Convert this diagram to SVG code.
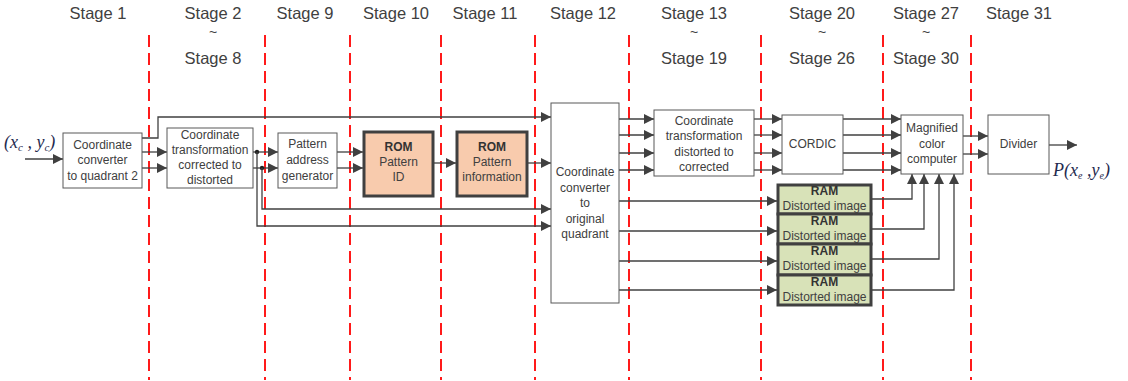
<svg xmlns="http://www.w3.org/2000/svg" width="1128" height="381" viewBox="0 0 1128 381">
<defs>
<marker id="ah" markerUnits="userSpaceOnUse" markerWidth="10" markerHeight="10" refX="10" refY="5" orient="auto" viewBox="0 0 10 10">
<path d="M0,0 L10,5 L0,10 z" fill="#404040"/>
</marker>
<style>
.stage{font-family:"Liberation Sans",Arial,sans-serif;font-size:16.5px;fill:#404040;text-anchor:middle}
.tl{font-family:"Liberation Sans",Arial,sans-serif;font-size:14px;fill:#404040;text-anchor:middle}
.t{font-family:"Liberation Sans",Arial,sans-serif;font-size:12px;fill:#404040;text-anchor:middle}
.b{font-weight:bold;fill:#333}
.box{fill:#fff;stroke:#595959;stroke-width:1}
.rom{fill:#f8cbad;stroke:#404040;stroke-width:3}
.ram{fill:#d8e2b8;stroke:#404040;stroke-width:3}
.dash{stroke:#ff1a1a;stroke-width:2;stroke-dasharray:12 6;fill:none}
.a{stroke:#404040;stroke-width:1.3;fill:none;marker-end:url(#ah)}
.m{font-family:"Liberation Serif","Times New Roman",serif;font-style:italic;font-size:18px;fill:#1f2a4f}
</style>
</defs>
<rect width="1128" height="381" fill="#fff"/>

<g id="stages">
<text class="stage" x="98" y="19">Stage 1</text>
<text class="stage" x="213" y="19">Stage 2</text>
<text class="tl" x="213" y="37">~</text>
<text class="stage" x="213" y="64">Stage 8</text>
<text class="stage" x="305" y="19">Stage 9</text>
<text class="stage" x="396" y="19">Stage 10</text>
<text class="stage" x="485" y="19">Stage 11</text>
<text class="stage" x="583" y="19">Stage 12</text>
<text class="stage" x="694" y="19">Stage 13</text>
<text class="tl" x="694" y="37">~</text>
<text class="stage" x="694" y="64">Stage 19</text>
<text class="stage" x="822" y="19">Stage 20</text>
<text class="tl" x="822" y="37">~</text>
<text class="stage" x="822" y="64">Stage 26</text>
<text class="stage" x="926" y="19">Stage 27</text>
<text class="tl" x="926" y="37">~</text>
<text class="stage" x="926" y="64">Stage 30</text>
<text class="stage" x="1019" y="19">Stage 31</text>
</g>

<g id="dividers">
<line class="dash" x1="149" y1="35" x2="149" y2="380"/>
<line class="dash" x1="265" y1="35" x2="265" y2="380"/>
<line class="dash" x1="350" y1="35" x2="350" y2="380"/>
<line class="dash" x1="441" y1="35" x2="441" y2="380"/>
<line class="dash" x1="535" y1="35" x2="535" y2="380"/>
<line class="dash" x1="629" y1="35" x2="629" y2="380"/>
<line class="dash" x1="761" y1="35" x2="761" y2="380"/>
<line class="dash" x1="883" y1="35" x2="883" y2="380"/>
<line class="dash" x1="971" y1="35" x2="971" y2="380"/>
</g>

<g id="connectors">
<line class="a" x1="25" y1="159" x2="63" y2="159"/>
<polyline class="a" points="142,138 158,138 158,117 551,117"/>
<line class="a" x1="142" y1="152" x2="167" y2="152"/>
<line class="a" x1="142" y1="168" x2="167" y2="168"/>
<line class="a" x1="253" y1="152" x2="278" y2="152"/>
<line class="a" x1="253" y1="168" x2="278" y2="168"/>
<circle cx="257" cy="152" r="2.2" fill="#222"/>
<circle cx="262" cy="168" r="2.2" fill="#222"/>
<polyline class="a" points="257,152 257,226 551,226"/>
<polyline class="a" points="262,168 262,209 551,209"/>
<line class="a" x1="337" y1="152" x2="363" y2="152"/>
<line class="a" x1="337" y1="168" x2="363" y2="168"/>
<line class="a" x1="434" y1="163" x2="456" y2="163"/>
<line class="a" x1="528" y1="163" x2="551" y2="163"/>
<line class="a" x1="619" y1="119" x2="654" y2="119"/>
<line class="a" x1="619" y1="135" x2="654" y2="135"/>
<line class="a" x1="619" y1="153" x2="654" y2="153"/>
<line class="a" x1="619" y1="170" x2="654" y2="170"/>
<line class="a" x1="754" y1="119" x2="782" y2="119"/>
<line class="a" x1="754" y1="135" x2="782" y2="135"/>
<line class="a" x1="754" y1="153" x2="782" y2="153"/>
<line class="a" x1="754" y1="170" x2="782" y2="170"/>
<line class="a" x1="843" y1="119" x2="901" y2="119"/>
<line class="a" x1="843" y1="135" x2="901" y2="135"/>
<line class="a" x1="843" y1="153" x2="901" y2="153"/>
<line class="a" x1="843" y1="170" x2="901" y2="170"/>
<line class="a" x1="963" y1="136" x2="988" y2="136"/>
<line class="a" x1="963" y1="154" x2="988" y2="154"/>
<line class="a" x1="1049" y1="145" x2="1077" y2="145"/>
<line class="a" x1="619" y1="201" x2="777" y2="201"/>
<line class="a" x1="619" y1="231" x2="777" y2="231"/>
<line class="a" x1="619" y1="261" x2="777" y2="261"/>
<line class="a" x1="619" y1="290" x2="777" y2="290"/>
<polyline class="a" points="872,199 912,199 912,174"/>
<polyline class="a" points="872,229 924,229 924,174"/>
<polyline class="a" points="872,259 939,259 939,174"/>
<polyline class="a" points="872,290 954,290 954,174"/>
</g>

<g id="input-label">
<text class="m" x="4" y="148">(<tspan>x</tspan><tspan font-size="11" dy="3">c</tspan><tspan dy="-3"> , y</tspan><tspan font-size="11" dy="3">c</tspan><tspan dy="-3">)</tspan></text>
</g>
<g id="output-label">
<text class="m" x="1053" y="176">P(<tspan>x</tspan><tspan font-size="10" dy="3">e</tspan><tspan dy="-3"> ,y</tspan><tspan font-size="10" dy="3">e</tspan><tspan dy="-3">)</tspan></text>
</g>

<g id="n-quadrant2">
<rect class="box" x="63" y="133" width="79" height="55"/>
<text class="t" x="102.5" y="149">Coordinate</text>
<text class="t" x="102.5" y="164">converter</text>
<text class="t" x="102.5" y="180">to quadrant 2</text>
</g>
<g id="n-corr2dist">
<rect class="box" x="167" y="128" width="86" height="60"/>
<text class="t" x="210" y="139">Coordinate</text>
<text class="t" x="210" y="154">transformation</text>
<text class="t" x="210" y="169">corrected to</text>
<text class="t" x="210" y="184">distorted</text>
</g>
<g id="n-pattern-addr">
<rect class="box" x="278" y="133" width="59" height="55"/>
<text class="t" x="307.5" y="148">Pattern</text>
<text class="t" x="307.5" y="164">address</text>
<text class="t" x="307.5" y="180">generator</text>
</g>
<g id="n-rom-id">
<rect class="rom" x="364" y="132" width="69" height="64"/>
<text class="t b" x="398.5" y="151">ROM</text>
<text class="t" x="398.5" y="166">Pattern</text>
<text class="t" x="398.5" y="181">ID</text>
</g>
<g id="n-rom-info">
<rect class="rom" x="457" y="132" width="70" height="64"/>
<text class="t b" x="492" y="151">ROM</text>
<text class="t" x="492" y="166">Pattern</text>
<text class="t" x="492" y="181">information</text>
</g>
<g id="n-orig-quadrant">
<rect class="box" x="551" y="103" width="68" height="200"/>
<text class="t" x="585" y="176">Coordinate</text>
<text class="t" x="585" y="192">converter</text>
<text class="t" x="585" y="207">to</text>
<text class="t" x="585" y="223">original</text>
<text class="t" x="585" y="238">quadrant</text>
</g>
<g id="n-dist2corr">
<rect class="box" x="654" y="110" width="100" height="66"/>
<text class="t" x="704" y="125">Coordinate</text>
<text class="t" x="704" y="140">transformation</text>
<text class="t" x="704" y="156">distorted to</text>
<text class="t" x="704" y="171">corrected</text>
</g>
<g id="n-cordic">
<rect class="box" x="782" y="115" width="61" height="59"/>
<text class="t" x="812.5" y="148">CORDIC</text>
</g>
<g id="n-magnified">
<rect class="box" x="901" y="115" width="62" height="59"/>
<text class="t" x="932" y="132">Magnified</text>
<text class="t" x="932" y="148">color</text>
<text class="t" x="932" y="163">computer</text>
</g>
<g id="n-divider">
<rect class="box" x="988" y="115" width="61" height="59"/>
<text class="t" x="1018.5" y="148">Divider</text>
</g>
<g id="n-ram1">
<rect class="ram" x="778" y="185" width="93" height="29"/>
<text class="t b" x="824.5" y="195">RAM</text>
<text class="t" x="824.5" y="210">Distorted image</text>
</g>
<g id="n-ram2">
<rect class="ram" x="778" y="214" width="93" height="30"/>
<text class="t b" x="824.5" y="225">RAM</text>
<text class="t" x="824.5" y="240">Distorted image</text>
</g>
<g id="n-ram3">
<rect class="ram" x="778" y="244" width="93" height="31"/>
<text class="t b" x="824.5" y="255">RAM</text>
<text class="t" x="824.5" y="270">Distorted image</text>
</g>
<g id="n-ram4">
<rect class="ram" x="778" y="275" width="93" height="30"/>
<text class="t b" x="824.5" y="286">RAM</text>
<text class="t" x="824.5" y="301">Distorted image</text>
</g>
</svg>
